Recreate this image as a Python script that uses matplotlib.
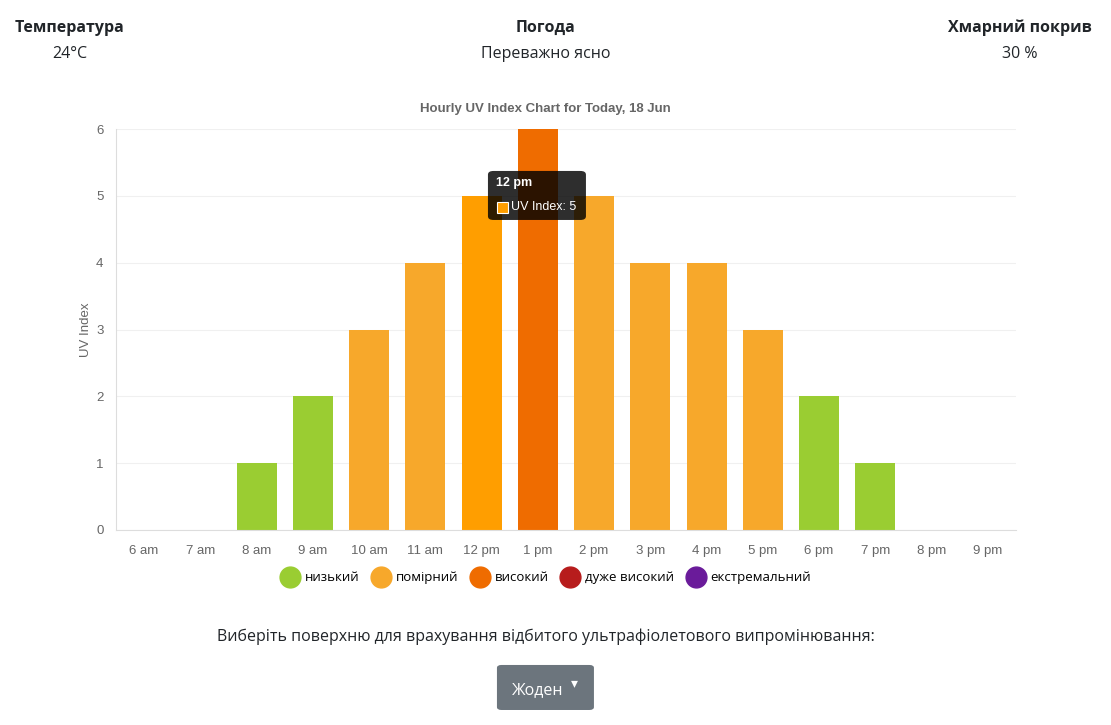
import matplotlib
matplotlib.use("Agg")
import matplotlib.pyplot as plt
from matplotlib.lines import Line2D
from matplotlib.patches import FancyBboxPatch

hours = ["6 am", "7 am", "8 am", "9 am", "10 am", "11 am", "12 pm", "1 pm",
         "2 pm", "3 pm", "4 pm", "5 pm", "6 pm", "7 pm", "8 pm", "9 pm"]
uv_index = [0, 0, 1, 2, 3, 4, 5, 6, 5, 4, 4, 3, 2, 1, 0, 0]
hovered = "12 pm"

level_names = ["низький", "помірний", "високий", "дуже високий", "екстремальний"]
level_colors = ["#9ACD32", "#F7A82B", "#EF6C00", "#B71C1C", "#6A1B9A"]
hover_color = "#FF9E00"

header_titles = ["Температура", "Погода", "Хмарний покрив"]
header_values = ["24°C", "Переважно ясно", "30 %"]


def level_of(v):
    if v <= 2:
        return 0
    if v <= 5:
        return 1
    if v <= 7:
        return 2
    if v <= 10:
        return 3
    return 4


UI = ["Open Sans", "DejaVu Sans"]
CH = ["Liberation Sans", "DejaVu Sans"]

fig = plt.figure(figsize=(11.11, 7.25), dpi=100)
ax = fig.add_axes([0.1044, 0.269, 0.810, 0.553])

colors = [level_colors[level_of(v)] for v in uv_index]
colors[hours.index(hovered)] = hover_color
x = range(len(hours))
ax.bar(x, uv_index, width=0.71, color=colors, zorder=2)

ax.set_xlim(-0.5, len(hours) - 0.5)
ax.set_ylim(0, 6)
ax.set_yticks(range(7))
ax.set_xticks(list(x))
ax.set_xticklabels(hours)
ax.grid(axis="y", color="#f0f0f0", lw=0.8, zorder=0)
for side in ["top", "right"]:
    ax.spines[side].set_visible(False)
for side in ["left", "bottom"]:
    ax.spines[side].set_color("#dddddd")
ax.tick_params(length=0, colors="#666666", labelsize=9.5)
ax.tick_params(axis="x", pad=11)
ax.tick_params(axis="y", pad=9)
for lab in ax.get_xticklabels() + ax.get_yticklabels():
    lab.set_family(CH)
ax.set_ylabel("UV Index", color="#666666", fontsize=9.5, family=CH, labelpad=3)

fig.text(0.491, 0.849, "Hourly UV Index Chart for Today, 18 Jun", ha="center",
         va="center", fontsize=9.5, fontweight="bold", color="#666666", family=CH)

# header
hx = [0.063, 0.491, 0.918]
for xx, t, v in zip(hx, header_titles, header_values):
    fig.text(xx, 0.962, t, ha="center", va="center", fontsize=11.5,
             fontweight="bold", color="#212529", family=UI)
    fig.text(xx, 0.926, v, ha="center", va="center", fontsize=11.5,
             color="#212529", family=UI)

# tooltip
fig.patches.append(FancyBboxPatch((0.4392, 0.6966), 0.0882, 0.0676,
                                  boxstyle="round,pad=0,rounding_size=0.005",
                                  transform=fig.transFigure, fc="black",
                                  alpha=0.82, ec="none", zorder=5))
fig.text(0.4464, 0.7476, hovered, fontsize=9, fontweight="bold", color="white",
         family=CH, va="center", zorder=6)
fig.patches.append(plt.Rectangle((0.4473, 0.7062), 0.0099, 0.0152,
                                 transform=fig.transFigure, fc=hover_color,
                                 ec="white", lw=0.8, zorder=6))
fig.text(0.4600, 0.7145, "UV Index: %d" % uv_index[hours.index(hovered)],
         fontsize=9, color="white", family=CH, va="center", zorder=6)

# legend
handles = [Line2D([], [], marker="o", ls="", ms=15, color=c) for c in level_colors]
fig.legend(handles, level_names, loc="center", bbox_to_anchor=(0.491, 0.203),
           ncol=5, frameon=False, prop={"family": UI, "size": 9.5},
           handletextpad=0.35, columnspacing=0.9, handlelength=1.5)

fig.text(0.491, 0.122, "Виберіть поверхню для врахування відбитого ультрафіолетового випромінювання:",
         ha="center", va="center", fontsize=11.5, color="#212529", family=UI)

# dropdown button
fig.patches.append(FancyBboxPatch((0.4473, 0.0207), 0.0873, 0.0621,
                                  boxstyle="round,pad=0,rounding_size=0.004",
                                  transform=fig.transFigure, fc="#6c757d",
                                  ec="none"))
fig.text(0.4842, 0.048, "Жоден", ha="center", va="center", fontsize=11.5,
         color="white", family=UI)
fig.text(0.5175, 0.058, "▾", ha="center", va="center", fontsize=10,
         color="white", family=["DejaVu Sans"])

fig.savefig("out.png", dpi=100)
